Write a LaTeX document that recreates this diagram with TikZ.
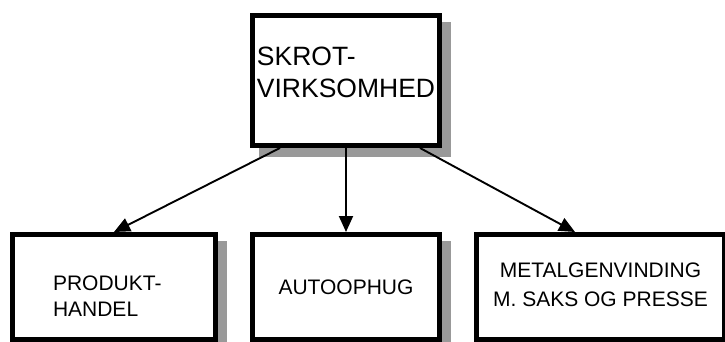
\documentclass[tikz,border=0pt]{standalone}
\usepackage{fontspec}
\setmainfont{Liberation Sans}
\usetikzlibrary{positioning, arrows.meta, shadows}
\definecolor{shadowgray}{gray}{0.6}
\tikzset{
	node distance=84pt and 32pt,
	box/.style= {
		rectangle,
		black,
		draw,
		line width=5pt,
		fill=white,
		inner sep=0pt,
		align=center,
		minimum height=105pt,
		drop shadow={shadow xshift=9pt, shadow yshift=-9pt, opacity=1,
			fill=shadowgray, draw=shadowgray, line width=5pt}
	},
	bigtext/.style= {
		font=\fontsize{26.5}{32}\selectfont
	},
	smalltext/.style= {
		font=\fontsize{21}{25}\selectfont
	},
	link/.style= {
		line width=1.9pt,
		-{Triangle[length=16pt, width=14pt]}
	}
}

\begin{document}
\begin{tikzpicture}
		\useasboundingbox (0,0) rectangle (725pt,-342pt);
		
		\node (autoophug)[box, smalltext, minimum width=187pt] at (346pt,-287pt) {AUTOOPHUG};
		\node (produkt)[box, smalltext, minimum width=203pt, text width=122pt, align=left, text depth=8pt, left=of autoophug] {PRODUKT-\\[1pt]HANDEL};
		\node (metal)[box, smalltext, minimum width=248pt, text depth=5pt, right=of autoophug] {METALGENVINDING\\[4pt]M. SAKS OG PRESSE};
		
		\node (skrot)[box, bigtext, minimum width=187pt, minimum height=130pt, align=left, text depth=17pt, above=of autoophug] {SKROT-\\VIRKSOMHED};
		
		\draw[link] ([xshift=-66pt]skrot.south) to (produkt.north);
		\draw[link] (skrot.south) to (autoophug.north);
		\draw[link] ([xshift=74pt]skrot.south) to ([xshift=-25.5pt]metal.north);
	\end{tikzpicture}
\end{document}
